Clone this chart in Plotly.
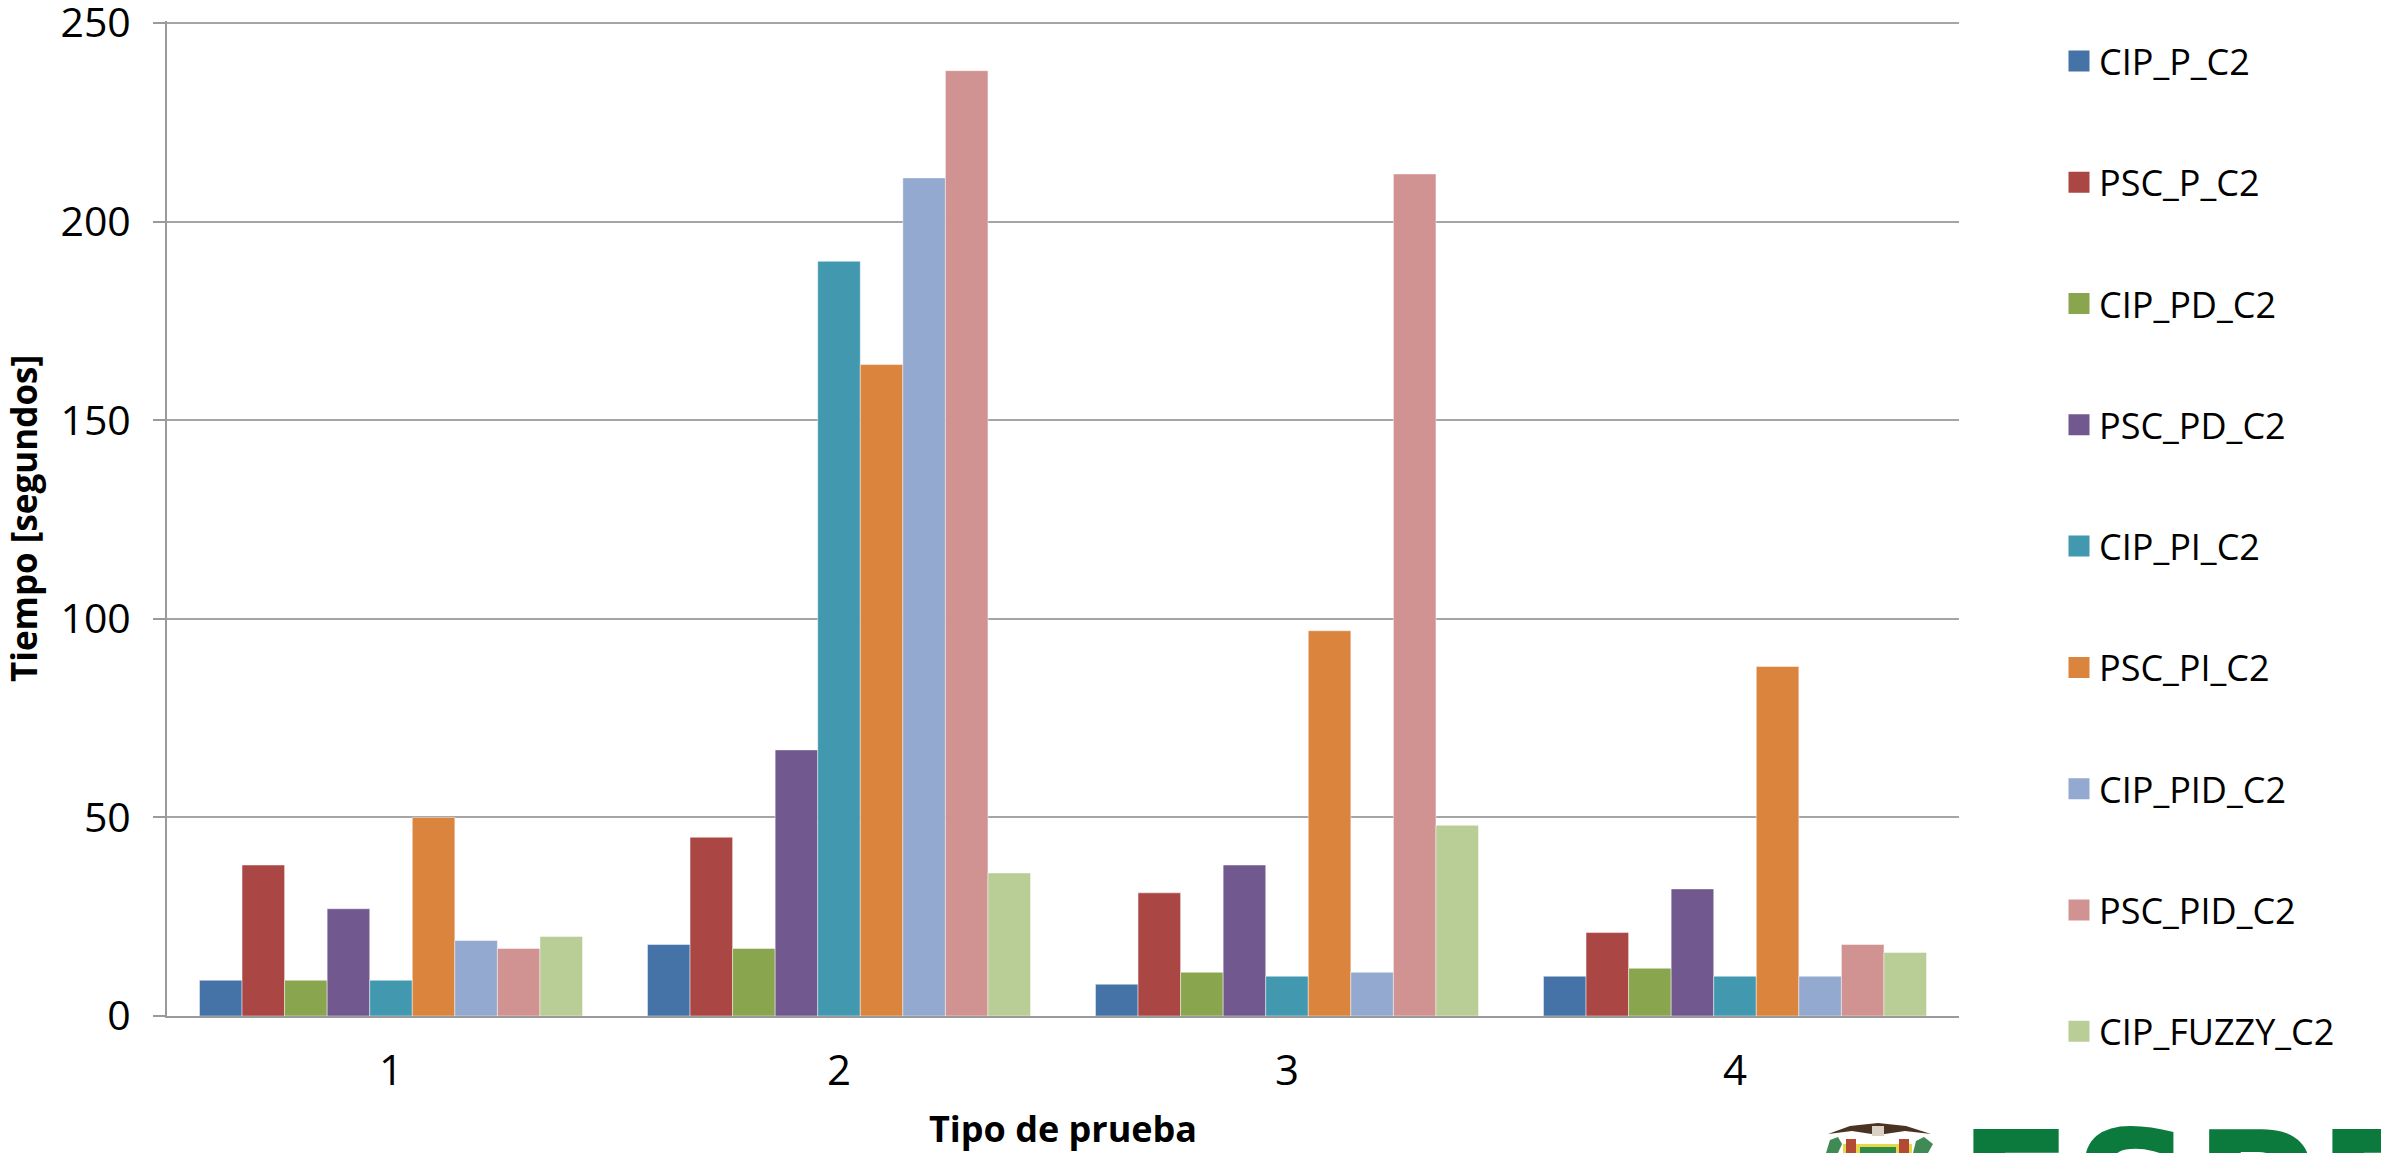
import plotly.graph_objects as go

# Test types on the category axis
categorias = ["1", "2", "3", "4"]

# Time per controller configuration (seconds), one list per series
series = ["CIP_P_C2", "PSC_P_C2", "CIP_PD_C2", "PSC_PD_C2", "CIP_PI_C2",
          "PSC_PI_C2", "CIP_PID_C2", "PSC_PID_C2", "CIP_FUZZY_C2"]
cip_p = [9, 18, 8, 10]
psc_p = [38, 45, 31, 21]
cip_pd = [9, 17, 11, 12]
psc_pd = [27, 67, 38, 32]
cip_pi = [9, 190, 10, 10]
psc_pi = [50, 164, 97, 88]
cip_pid = [19, 211, 11, 10]
psc_pid = [17, 238, 212, 18]
cip_fuzzy = [20, 36, 48, 16]
valores = [cip_p, psc_p, cip_pd, psc_pd, cip_pi, psc_pi, cip_pid, psc_pid, cip_fuzzy]

y_ticks = [0, 50, 100, 150, 200, 250]

colores = ["#4572A7", "#AA4643", "#89A54E", "#71588F", "#4198AF",
           "#DB843D", "#93A9CF", "#D19392", "#B9CD96"]

W, H = 2381, 1153
# plot area: y=0 at 1016 px, y=250 at 23 px; a little headroom so the top gridline is kept
ML, MR, MT, MB = 167, 422, 21, 137
PW, PH = W - ML - MR, H - MT - MB
Y_TOP = 250 + 2 * 250 / (1016 - 23)


def px(x):
    return (x - ML) / PW


def py(y):
    return (H - MB - y) / PH


fig = go.Figure()

for nombre, vals, col in zip(series, valores, colores):
    fig.add_trace(go.Bar(
        x=categorias, y=vals, name=nombre, showlegend=False,
        marker=dict(color=col, line=dict(color="rgba(255,255,255,0.45)", width=1)),
    ))

# Legend entries with larger square swatches
for nombre, col in zip(series, colores):
    fig.add_trace(go.Scatter(
        x=[None], y=[None], mode="markers", name=nombre, legendgroup=nombre,
        marker=dict(symbol="square", size=16, color=col, line=dict(color=col, width=5)),
    ))

# Institution logo in the lower-right corner (partially cropped by the page edge)
logo_shapes = []


def path(points, fill):
    d = "M" + " L".join(f"{px(x):.5f},{py(y):.5f}" for x, y in points) + " Z"
    logo_shapes.append(dict(type="path", path=d, xref="paper", yref="paper",
                            fillcolor=fill, line=dict(width=0), layer="above"))


def rect(x0, y0, x1, y1, fill):
    logo_shapes.append(dict(type="rect", xref="paper", yref="paper",
                            x0=px(x0), x1=px(x1), y0=py(y1), y1=py(y0),
                            fillcolor=fill, line=dict(width=0), layer="above"))


# eagle wings
path([(1828, 1134), (1850, 1126), (1878, 1123), (1906, 1126), (1931, 1134),
      (1905, 1131), (1878, 1135), (1852, 1131)], "#4a3322")
rect(1872, 1126, 1884, 1136, "#d9d2c4")
# shield frame, pillars and interior
rect(1843, 1144, 1912, 1153, "#e6d84a")
rect(1846, 1139, 1856, 1153, "#b34a35")
rect(1899, 1139, 1909, 1153, "#b34a35")
rect(1860, 1147, 1896, 1153, "#2f8a4a")
# side fronds
path([(1826, 1153), (1830, 1140), (1838, 1137), (1842, 1144), (1838, 1153)], "#3f8a55")
path([(1913, 1153), (1916, 1141), (1924, 1137), (1933, 1144), (1928, 1153)], "#3f8a55")

fig.add_annotation(
    text="<b>ESPE</b>", xref="paper", yref="paper", x=px(1956), y=py(1093),
    xanchor="left", yanchor="top", showarrow=False,
    font=dict(family="DejaVu Sans", size=168, color="#0c7a3c"),
)

fig.update_layout(
    width=W, height=H,
    margin=dict(l=ML, r=MR, t=MT, b=MB, pad=0, autoexpand=False),
    paper_bgcolor="white", plot_bgcolor="white",
    barmode="group", bargap=0.145, bargroupgap=0,
    font=dict(family="Open Sans", size=38, color="black"),
    shapes=logo_shapes,
    legend=dict(
        x=px(2059), y=py(31), xanchor="left", yanchor="top", maxheight=1400,
        tracegroupgap=71.5, font=dict(family="Open Sans", size=36, color="black"),
        bgcolor="rgba(0,0,0,0)",
    ),
    xaxis=dict(
        type="category", automargin=False,
        showgrid=False, showline=True, linecolor="#9a9a9a", linewidth=2,
        ticks="", tickfont=dict(size=42), ticklabelstandoff=17,
        title=dict(text="<b>Tipo de prueba</b>", font=dict(size=36), standoff=20),
    ),
    yaxis=dict(
        range=[0, Y_TOP], tickmode="array", tickvals=y_ticks, automargin=False,
        showgrid=True, gridcolor="#a5a5a5", gridwidth=1.5,
        zeroline=False, showline=True, linecolor="#9a9a9a", linewidth=2,
        ticks="outside", ticklen=12, tickcolor="#9a9a9a", tickwidth=1.5,
        tickfont=dict(size=41), ticklabelstandoff=14, ticklabeloverflow="allow",
        title=dict(text="<b>Tiempo [segundos]</b>", font=dict(size=35), standoff=16),
    ),
)

fig.write_html("out.html")
